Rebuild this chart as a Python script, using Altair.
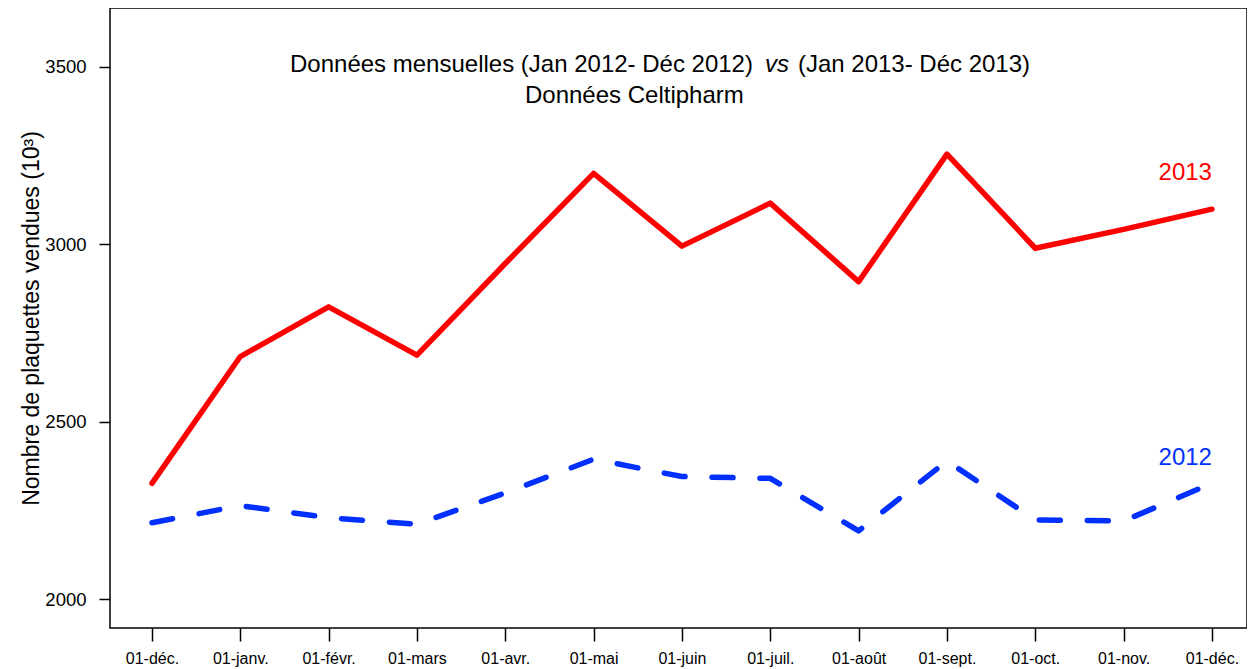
import altair as alt
import pandas as pd

months = ["01-déc.", "01-janv.", "01-févr.", "01-mars", "01-avr.", "01-mai", "01-juin",
          "01-juil.", "01-août", "01-sept.", "01-oct.", "01-nov.", "01-déc."]
v2013 = [2327, 2684, 2824, 2688, 2946, 3200, 2995, 3116, 2895, 3254, 2989, 3042, 3099]
v2012 = [2216, 2264, 2230, 2212, 2300, 2395, 2346, 2341, 2193, 2390, 2224, 2221, 2327]
yticks = [2000, 2500, 3000, 3500]

FONT = "Liberation Sans"
RED = "#FF0000"
BLUE = "#0030FF"

df13 = pd.DataFrame({"i": list(range(len(months))), "v": v2013})
df12 = pd.DataFrame({"i": list(range(len(months))), "v": v2012})

label_arr = "[" + ",".join("'" + m + "'" for m in months) + "]"

xscale = alt.Scale(domain=[-0.475, 12.397], nice=False, zero=False)
yscale = alt.Scale(domain=[1919.5, 3665.6], nice=False, zero=False)

xax = alt.Axis(values=list(range(len(months))), labelExpr=label_arr + "[datum.value]",
               title=None, grid=False, domain=False, tickSize=13, tickWidth=1.5,
               tickColor="black", labelFont=FONT, labelFontSize=16, labelColor="black",
               labelPadding=9, labelFlush=False, labelOverlap=False)
yax = alt.Axis(values=yticks, format="d", title="Nombre de plaquettes vendues (10³)", grid=False,
               domain=False, tickSize=11, tickWidth=1.5, tickColor="black",
               labelFont=FONT, labelFontSize=18.5, labelColor="black", labelPadding=13,
               titleFont=FONT, titleFontSize=23, titleFontWeight="normal", titleColor="black",
               titleX=-72, titleY=310, titleAlign="center", titleBaseline="alphabetic",
               titleAngle=270)

base_x = alt.X("i:Q", scale=xscale, axis=xax)
base_y = alt.Y("v:Q", scale=yscale, axis=yax)

line13 = alt.Chart(df13).mark_line(color=RED, strokeWidth=5.5, strokeJoin="round",
                                   strokeCap="round").encode(x=base_x, y=base_y)
line12 = alt.Chart(df12).mark_line(color=BLUE, strokeWidth=5.5, strokeJoin="round",
                                   strokeCap="round", strokeDash=[21, 27]).encode(
    x=alt.X("i:Q", scale=xscale), y=alt.Y("v:Q", scale=yscale))


def txt(s, x, y, color="black", align="left", size=24, style="normal"):
    return alt.Chart(pd.DataFrame({"t": [s]})).mark_text(
        font=FONT, fontSize=size, color=color, align=align, baseline="alphabetic",
        fontStyle=style).encode(
        x=alt.X(datum=x, scale=xscale),
        y=alt.Y(datum=y, scale=yscale), text="t:N")


t1 = txt("Données mensuelles (Jan 2012- Déc 2012)", 6.804, 3485, align="right")
t2 = txt("vs", 6.94, 3485, style="italic")
t3 = txt("(Jan 2013- Déc 2013)", 7.313, 3485)
t4 = txt("Données Celtipharm", 4.223, 3398)
l13 = txt("2013", 12.0, 3181, color=RED, align="right")
l12 = txt("2012", 12.0, 2378.5, color=BLUE, align="right")

chart = alt.layer(line13, line12, t1, t2, t3, t4, l13, l12).properties(
    width=1137, height=620,
    autosize=alt.AutoSizeParams(type="none"),
    padding={"left": 102, "top": 0, "right": 0, "bottom": 40},
    background="white",
).configure_view(stroke="black", strokeWidth=1.5)

chart.save("out.html", embed_options={"renderer": "svg", "actions": False})
